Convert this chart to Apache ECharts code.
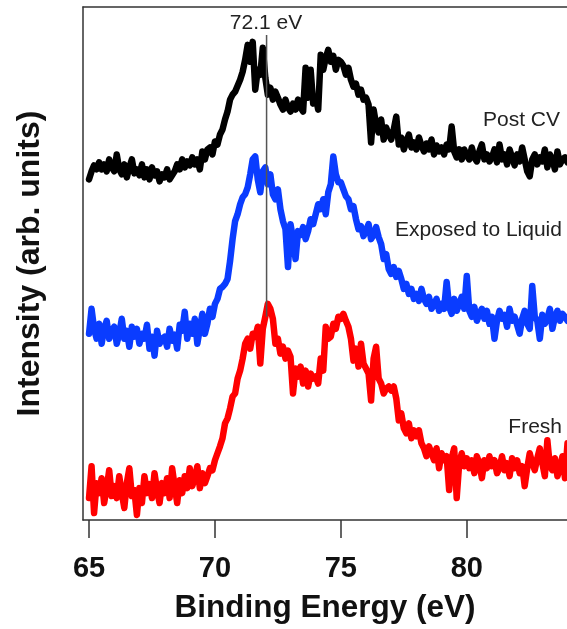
<!DOCTYPE html>
<html>
<head>
<meta charset="utf-8">
<script src="https://cdn.jsdelivr.net/npm/echarts@6/dist/echarts.min.js"></script>
<style>
html,body{margin:0;padding:0;background:#fff;}
#chart{width:567px;height:629px;}
</style>
</head>
<body>
<div id="chart"></div>
<script>
// Binding energy grid (eV): 65.0 .. 84.0, step 0.1
const energyStart = 65.0;
const energyStep = 0.1;
const tickValues = [65, 70, 75, 80];
const markerEnergy = 72.05;
const markerLabel = '72.1 eV';
const seriesNames = ['Post CV', 'Exposed to Liquid', 'Fresh'];
const xTitle = 'Binding Energy (eV)';
const yTitle = 'Intensity (arb. units)';

// Intensities (arb. units, offset traces)
const postCV = [
342,350,356,352,359,352,357,350,362,354,
350,367,352,347,357,344,354,362,348,352,
346,357,344,352,342,354,346,350,340,347,
344,352,342,346,350,357,352,362,354,360,
356,364,357,362,352,370,362,372,374,367,
380,377,387,392,402,410,422,427,430,436,
442,450,462,477,460,480,432,452,447,474,
444,427,434,422,430,424,417,412,422,414,
410,418,412,422,414,410,454,424,452,418,
425,412,467,452,464,472,460,466,452,462,
460,456,447,454,442,435,438,427,432,422,
424,417,379,412,397,389,402,382,394,387,
382,392,405,377,384,372,380,387,374,379,
372,384,376,370,378,372,382,367,376,370,
374,367,377,372,395,370,364,372,362,372,
366,362,374,364,360,370,377,362,367,360,
364,372,359,377,362,367,357,372,364,356,
367,360,374,362,350,345,362,367,357,364,
360,372,354,367,362,352,370,357,362,364,
359];

const exposed = [
187,212,192,182,197,177,192,200,182,190,
194,177,187,202,182,190,174,194,184,192,
177,187,182,196,172,184,165,190,177,182,
184,174,192,180,186,172,196,190,209,182,
197,187,202,177,192,207,187,197,212,204,
217,222,232,234,237,242,260,282,300,307,
317,324,327,334,347,362,365,342,329,350,
354,337,347,327,322,332,312,300,292,254,
297,282,262,290,286,294,282,290,302,297,
307,317,312,322,307,329,337,365,347,339,
339,332,325,322,312,315,302,292,295,285,
290,297,282,286,294,284,277,262,267,252,
247,254,244,250,242,232,237,227,232,222,
227,220,232,222,217,224,212,216,222,210,
217,212,239,214,207,222,210,217,224,212,
245,210,204,214,200,207,212,202,210,197,
204,182,200,210,202,206,194,212,200,204,
196,187,202,210,197,192,235,204,200,182,
206,197,202,212,192,204,210,200,207,204,
200];

const fresh = [
22,54,7,37,27,42,17,32,50,24,
34,22,44,27,12,37,52,24,30,5,
32,17,44,27,36,22,47,30,17,37,
27,42,22,52,34,17,40,27,44,32,
52,34,42,54,32,47,37,44,52,50,
60,67,74,82,97,102,112,124,127,142,
150,162,177,182,172,187,184,194,157,192,
204,217,212,202,177,182,167,174,162,170,
164,127,152,144,154,137,150,134,147,142,
144,137,162,150,194,182,184,197,192,204,
202,207,200,194,182,160,172,154,177,157,
152,147,120,162,174,142,137,127,132,134,
130,134,122,100,107,92,87,97,82,90,
84,90,77,72,64,74,67,60,72,52,
67,60,64,30,62,72,22,57,67,54,
62,52,60,47,64,57,42,60,52,64,
54,60,47,52,64,50,57,44,62,52,
60,47,54,34,52,67,57,50,62,72,
57,44,80,54,50,62,44,52,64,42,
77];

const markerSpan = [204, 487];

const colors = ['#000000', '#0a3cff', '#ff0000'];

function toPairs(vals) {
  return vals.map((v, i) => [+(energyStart + i * energyStep).toFixed(1), v]);
}

const chart = echarts.init(document.getElementById('chart'), null, {renderer: 'canvas'});
const FONT = '"Liberation Sans", Arial, Helvetica, sans-serif';
const frame = {show: true, lineStyle: {color: '#333', width: 1.5}};

const traceStyle = (c) => ({color: c, width: 6.5, cap: 'round', join: 'round'});

chart.setOption({
  animation: false,
  backgroundColor: '#ffffff',
  grid: {left: 83, top: 7, right: 0, bottom: 107, show: false},
  xAxis: [{
    type: 'value', min: 64.76, max: 83.98,
    name: xTitle, nameLocation: 'middle', nameGap: 88,
    nameTextStyle: {fontFamily: FONT, fontSize: 31.5, fontWeight: 'bold', color: '#111', verticalAlign: 'middle'},
    axisLine: frame,
    axisTick: {show: true, inside: false, length: 18, customValues: tickValues, lineStyle: {color: '#333', width: 1.5}},
    axisLabel: {show: true, customValues: tickValues, margin: 34, fontFamily: FONT, fontSize: 29, fontWeight: 'bold', color: '#111'},
    splitLine: {show: false}
  }, {
    type: 'value', position: 'top', min: 64.76, max: 83.98,
    axisLine: frame, axisTick: {show: false}, axisLabel: {show: false}, splitLine: {show: false}
  }],
  yAxis: {
    type: 'value', min: 0, max: 515,
    name: yTitle, nameLocation: 'middle', nameGap: 53, nameRotate: 90,
    nameTextStyle: {fontFamily: FONT, fontSize: 32, fontWeight: 'bold', color: '#111', verticalAlign: 'middle'},
    axisLine: frame, axisTick: {show: false}, axisLabel: {show: false}, splitLine: {show: false}
  },
  series: [
    {name: seriesNames[0], type: 'line', data: toPairs(postCV), showSymbol: false, lineStyle: traceStyle(colors[0]), z: 2},
    {name: seriesNames[1], type: 'line', data: toPairs(exposed), showSymbol: false, lineStyle: traceStyle(colors[1]), z: 3},
    {name: seriesNames[2], type: 'line', data: toPairs(fresh), showSymbol: false, lineStyle: traceStyle(colors[2]), z: 4},
    {name: 'marker', type: 'line', data: [[markerEnergy, markerSpan[0]], [markerEnergy, markerSpan[1]]], showSymbol: false,
     lineStyle: {color: '#555', width: 1.5}, z: 5}
  ],
  graphic: [
    {type: 'text', x: 266, y: 23, style: {text: markerLabel, font: '21px ' + FONT, fill: '#222', textAlign: 'center', textVerticalAlign: 'middle'}},
    {type: 'text', x: 560, y: 120, style: {text: seriesNames[0], font: '21px ' + FONT, fill: '#222', textAlign: 'right', textVerticalAlign: 'middle'}},
    {type: 'text', x: 395, y: 230, style: {text: seriesNames[1], font: '21px ' + FONT, fill: '#222', textAlign: 'left', textVerticalAlign: 'middle'}},
    {type: 'text', x: 562, y: 427, style: {text: seriesNames[2], font: '21px ' + FONT, fill: '#222', textAlign: 'right', textVerticalAlign: 'middle'}}
  ]
});
</script>
</body>
</html>
